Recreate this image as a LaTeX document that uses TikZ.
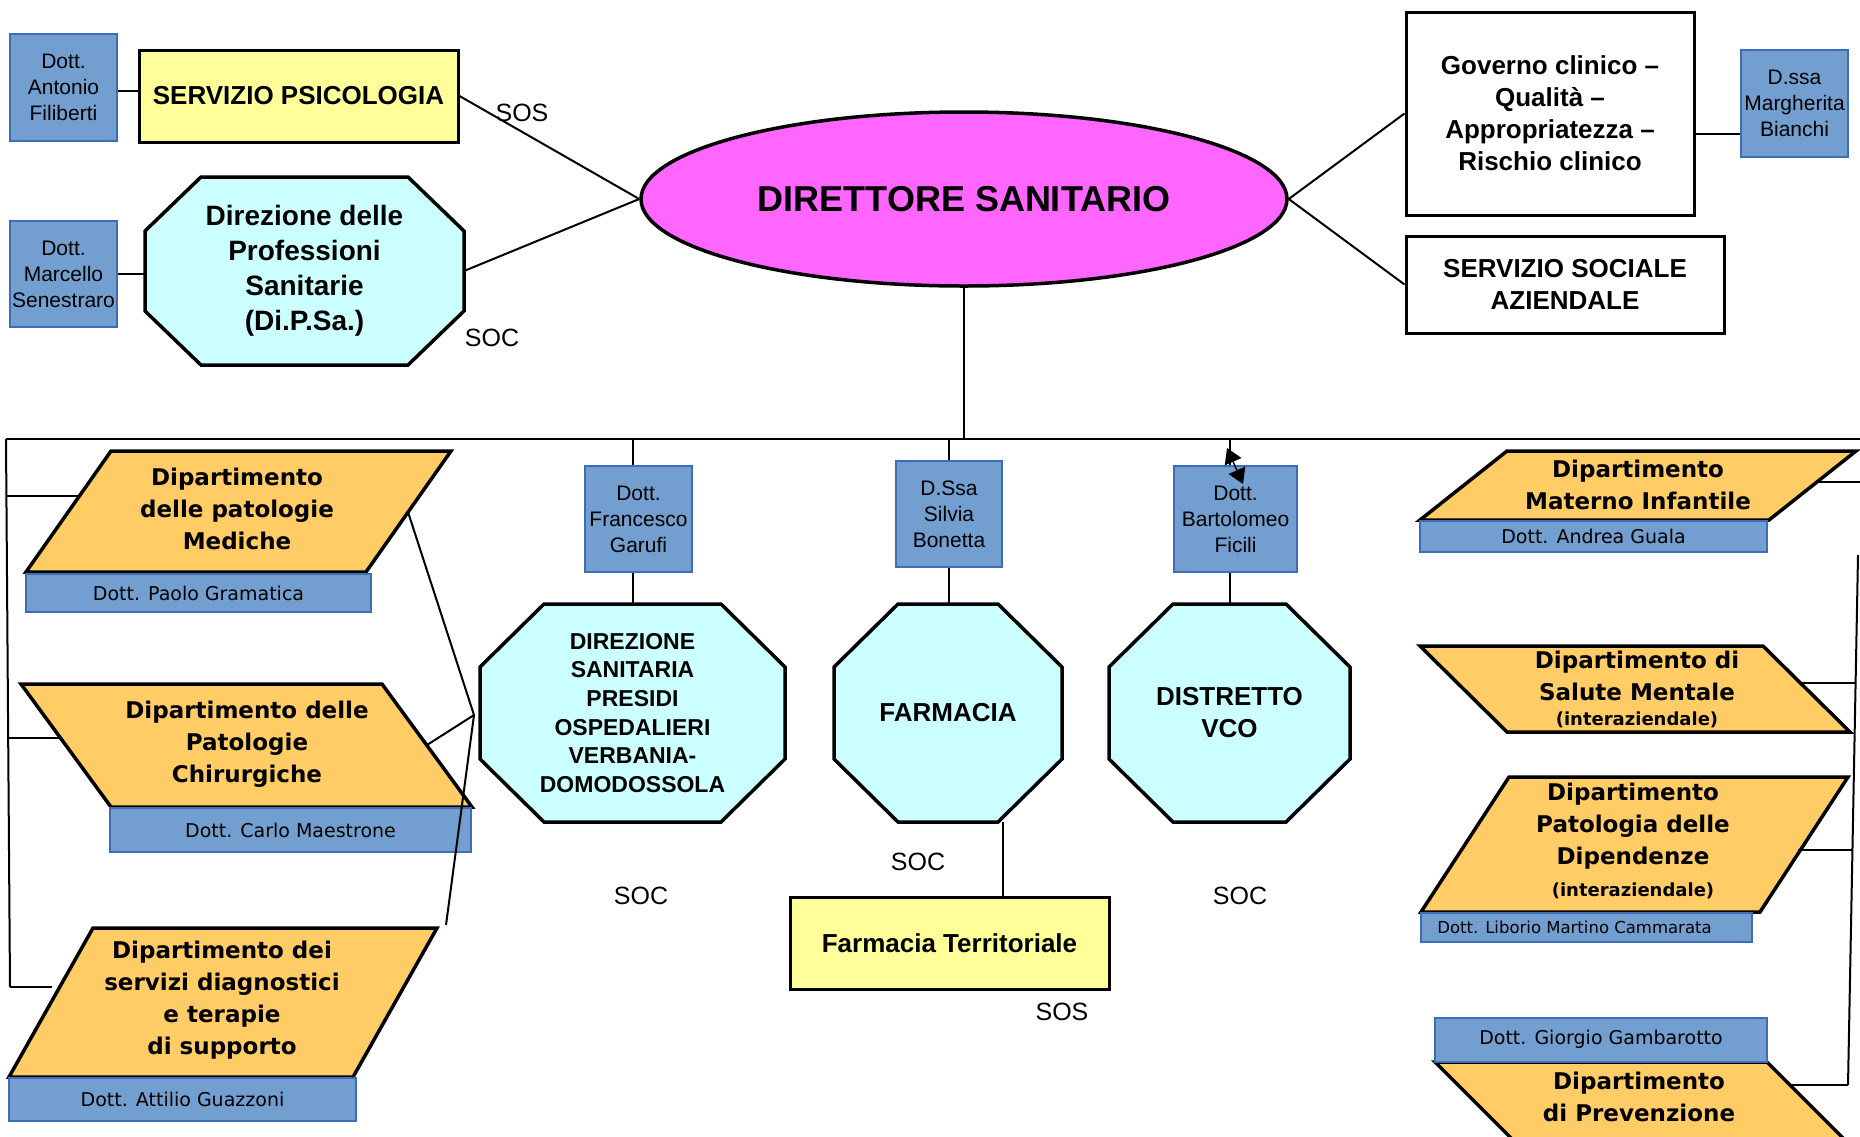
\documentclass[tikz,border=0pt]{standalone}
\usepackage{fontspec}
\setmainfont{Liberation Sans}
\newfontfamily\dvsans{DejaVu Sans}
\usetikzlibrary{calc,arrows.meta,shapes.geometric}
\definecolor{bfill}{HTML}{729FCF}
\definecolor{bdraw}{HTML}{3E6DB5}
\definecolor{yfill}{HTML}{FFFF99}
\definecolor{cfill}{HTML}{CCFFFF}
\definecolor{ofill}{HTML}{FFCC66}
\definecolor{mfill}{HTML}{FF66FF}
\tikzset{
  namebox/.style={draw=bdraw, fill=bfill, line width=2pt, inner sep=0pt, align=center, font=\fontsize{21}{26}\selectfont},
  deptname/.style={draw=bdraw, fill=bfill, line width=2pt, inner sep=0pt, font=\dvsans\fontsize{19}{23}\selectfont},
  unitbox/.style={draw, line width=3pt, inner sep=0pt, align=center, font=\bfseries\fontsize{26}{32}\selectfont},
  shapeframe/.style={inner sep=0pt, outer sep=0pt},
  octa/.style={draw, fill=cfill, line width=3.5pt, line join=miter},
  para/.style={draw, fill=ofill, line width=3.5pt, line join=miter},
  octtext/.style={align=center, font=\bfseries\fontsize{26}{32}\selectfont},
  depttext/.style={align=center, font=\dvsans\bfseries\fontsize{23}{32}\selectfont},
  smalldept/.style={font=\dvsans\bfseries\fontsize{18}{22}\selectfont},
  lvl/.style={font=\fontsize{25}{30}\selectfont},
  conn/.style={line width=2pt}
}
\newcommand\octshape[3]{%
  \draw[octa] ($(#1.north west)+(#2,0)$) -- ($(#1.north east)+(-#2,0)$) -- ($(#1.north east)+(0,#3)$) -- ($(#1.south east)+(0,-#3)$) -- ($(#1.south east)+(-#2,0)$) -- ($(#1.south west)+(#2,0)$) -- ($(#1.south west)+(0,-#3)$) -- ($(#1.north west)+(0,#3)$) -- cycle;}
\newcommand\parfwd[2]{%
  \draw[para] (#1.south west) -- ($(#1.north west)+(#2,0)$) -- (#1.north east) -- ($(#1.south east)+(-#2,0)$) -- cycle;}
\newcommand\parbwd[2]{%
  \draw[para] (#1.north west) -- ($(#1.north east)+(-#2,0)$) -- (#1.south east) -- ($(#1.south west)+(#2,0)$) -- cycle;}
\begin{document}
\begin{tikzpicture}[x=1pt,y=-1pt]
\useasboundingbox[fill=white] (0,0) rectangle (1860,1136);

% ---------- top area ----------
\node[namebox, minimum width=107pt, minimum height=107pt] (ant) at (63.5,87.5) {Dott.\\Antonio\\Filiberti};
\node[unitbox, fill=yfill, minimum width=319pt, minimum height=92pt] (psi) at (298.5,96) {SERVIZIO PSICOLOGIA};
\node[namebox, minimum width=107pt, minimum height=106pt] (mar) at (63.5,274) {Dott.\\Marcello\\Senestraro};
\node[shapeframe, minimum width=319pt, minimum height=188pt] (dpsf) at (304.5,271) {};
\octshape{dpsf}{56}{54}
\node[octtext, font=\bfseries\fontsize{28}{35}\selectfont] (dps) at (dpsf) {Direzione delle\\Professioni\\Sanitarie\\(Di.P.Sa.)};
\node[draw, fill=mfill, ellipse, line width=3.5pt, minimum width=646pt, minimum height=174pt, inner sep=0pt, font=\bfseries\fontsize{36}{40}\selectfont] (dir) at (964,199) {DIRETTORE SANITARIO};
\node[unitbox, minimum width=288pt, minimum height=203pt] (gov) at (1550,113.5) {Governo clinico –\\Qualità –\\Appropriatezza –\\Rischio clinico};
\node[namebox, minimum width=107pt, minimum height=107pt] (mbi) at (1794.5,103.5) {D.ssa\\Margherita\\Bianchi};
\node[unitbox, minimum width=318pt, minimum height=97pt] (soc) at (1565,284.5) {SERVIZIO SOCIALE\\AZIENDALE};

\node[lvl] (sos1) at (522,113) {SOS};
\node[lvl] (soc1) at (492,338) {SOC};

% ---------- middle units ----------
\node[namebox, minimum width=107pt, minimum height=106pt] (gar) at (638.5,519) {Dott.\\Francesco\\Garufi};
\node[namebox, minimum width=106pt, minimum height=106pt] (bon) at (949,514) {D.Ssa\\Silvia\\Bonetta};
\node[namebox, minimum width=123pt, minimum height=106pt] (fic) at (1235.5,519) {Dott.\\Bartolomeo\\Ficili};

\node[shapeframe, minimum width=305pt, minimum height=218pt] (dspf) at (632.5,713) {};
\octshape{dspf}{64}{63}
\node[octtext, font=\bfseries\fontsize{23}{28.7}\selectfont] (dsp) at (dspf) {DIREZIONE\\SANITARIA\\PRESIDI\\OSPEDALIERI\\VERBANIA-\\DOMODOSSOLA};

\node[shapeframe, minimum width=228pt, minimum height=218pt] (farf) at (948,713) {};
\octshape{farf}{64}{63}
\node[octtext] (far) at (farf) {FARMACIA};

\node[shapeframe, minimum width=241pt, minimum height=218pt] (disf) at (1229.5,713) {};
\octshape{disf}{64}{63}
\node[octtext] (dis) at (disf) {DISTRETTO\\VCO};

\node[unitbox, fill=yfill, minimum width=319pt, minimum height=92pt] (ft) at (949.5,943) {Farmacia Territoriale};

\node[lvl] (soc2) at (641,896) {SOC};
\node[lvl] (soc3) at (918,862) {SOC};
\node[lvl] (sos2) at (1062,1012) {SOS};
\node[lvl] (soc4) at (1240,896) {SOC};

% ---------- left departments ----------
\node[shapeframe, minimum width=425pt, minimum height=121pt] (medf) at (238.5,511.5) {};
\parfwd{medf}{85}
\node[depttext] (med) at (237,509) {Dipartimento\\delle patologie\\Mediche};
\node[deptname, minimum width=345pt, minimum height=38pt] (gra) at (198.5,593) {Dott. Paolo Gramatica};

\node[shapeframe, minimum width=451pt, minimum height=123pt] (chif) at (246.5,745.5) {};
\parbwd{chif}{90}
\node[depttext] (chi) at (247,744) {Dipartimento delle\\Patologie\\Chirurgiche};
\node[deptname, minimum width=361pt, minimum height=44pt] (mae) at (290.5,830) {Dott. Carlo Maestrone};

\node[shapeframe, minimum width=428pt, minimum height=149pt] (diaf) at (223,1002.5) {};
\parfwd{diaf}{84}
\node[depttext] (dia) at (222,1000) {Dipartimento dei\\servizi diagnostici\\e terapie\\di supporto};
\node[deptname, minimum width=347pt, minimum height=43pt] (gua) at (182.5,1099.5) {Dott. Attilio Guazzoni};

% ---------- right departments ----------
\node[shapeframe, minimum width=436pt, minimum height=69pt] (matf) at (1638,485.5) {};
\parfwd{matf}{87}
\node[depttext] (mat) at (1638,485) {Dipartimento\\Materno Infantile};
\node[deptname, minimum width=347pt, minimum height=31pt] (agu) at (1593.5,536.5) {Dott. Andrea Guala};

\node[shapeframe, minimum width=430pt, minimum height=86pt] (salf) at (1635,689) {};
\parbwd{salf}{87}
\node[depttext] (sal) at (1637,676) {Dipartimento di\\Salute Mentale};
\node[smalldept] (sali) at (1637,720) {(interaziendale)};

\node[shapeframe, minimum width=427pt, minimum height=135pt] (dipf) at (1634.5,844.5) {};
\parfwd{dipf}{88}
\node[depttext] (dip) at (1633,826) {Dipartimento\\Patologia delle\\Dipendenze};
\node[smalldept] (dipi) at (1633,891) {(interaziendale)};
\node[deptname, minimum width=331pt, minimum height=29pt, font=\dvsans\fontsize{16.5}{20}\selectfont] (lib) at (1586.5,927.5) {\hspace*{-24pt}Dott. Liborio Martino Cammarata};

\node[shapeframe, minimum width=420pt, minimum height=88pt] (pref) at (1645,1106) {};
\parbwd{pref}{88}
\node[depttext] (pre) at (1639,1097) {Dipartimento\\di Prevenzione};
\node[deptname, minimum width=332pt, minimum height=44pt] (gam) at (1601,1039.5) {Dott. Giorgio Gambarotto};

% ---------- connectors ----------
\coordinate (busL) at (6,439);
\coordinate (busR) at (1860,439);
\coordinate (lvB) at (10,987);
\coordinate (rvT) at (1858,555);
\coordinate (rvB) at (1848,1085);
\draw[conn] (busL) -- (busR);
\draw[conn] (busL) -- (lvB);
\draw[conn] (rvT) -- (rvB);

\draw[conn] ([yshift=-3pt]ant.east) -- ([yshift=-3pt]ant.east -| psi.west);
\draw[conn] (mar.east) -- (mar.east -| dpsf.west);
\draw[conn] (psi.east) -- (dir.west);
\draw[conn] (dpsf.east) -- (dir.west);
\draw[conn] (dir.east) -- (gov.west);
\draw[conn] (dir.east) -- (soc.west);
\draw[conn] ([yshift=-20pt]gov.east) -- ([yshift=-20pt]gov.east -| mbi.west);
\draw[conn] (dir.south) -- (dir.south |- busL);

\draw[conn] (dspf.north |- busL) -- (dspf.north |- gar.north);
\draw[conn] (dspf.north |- gar.south) -- (dspf.north);
\draw[conn] (bon.north |- busL) -- (bon.north);
\draw[conn] (bon.south) -- (bon.south |- farf.north);
\draw[conn] (disf.north |- busL) -- (disf.north |- fic.north);
\draw[conn] (disf.north |- fic.south) -- (disf.north);
\coordinate (fa1) at (1227,448);
\coordinate (fa2) at (1243,484);
\draw[line width=1.5pt, {Triangle[length=15pt,width=18pt]}-{Triangle[length=15pt,width=18pt]}] (fa1) -- (fa2);
\draw[conn] ([xshift=53pt]ft.north |- farf.south) -- ([xshift=53pt]ft.north);

% left links
\coordinate (medL) at (78,496);
\coordinate (chiL) at (60,738);
\coordinate (diaL) at (52,987);
\draw[conn] (medL) -- (medL -| busL);
\draw[conn] (chiL) -- ([xshift=2pt]chiL -| busL);
\draw[conn] (diaL) -- (lvB);
\coordinate (jx) at (474,715);
\coordinate (medR) at (408,512);
\coordinate (chiR) at (427,745);
\coordinate (diaT) at (446,925);
\draw[conn] (medR) -- (jx) -- (diaT);
\draw[conn] (chiR) -- (jx);

% right links
\coordinate (matR) at (1816,482);
\coordinate (salR) at (1799,683);
\coordinate (dipR) at (1798,850);
\coordinate (preR) at (1790,1085);
\draw[conn] (matR) -- (busR |- matR);
\draw[conn] (salR) -- (1855,683);
\draw[conn] (dipR) -- (1852,850);
\draw[conn] (preR) -- (rvB);
\end{tikzpicture}
\end{document}
